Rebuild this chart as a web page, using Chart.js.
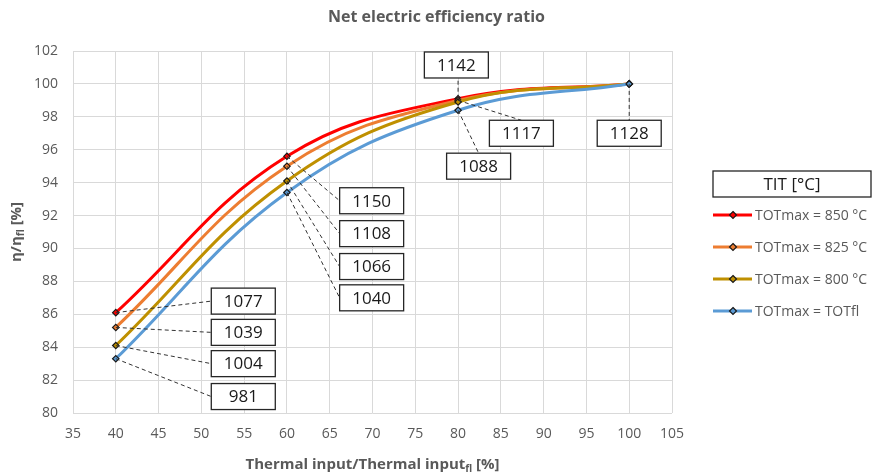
<!DOCTYPE html>
<html>
<head>
<meta charset="utf-8">
<script src="https://cdn.jsdelivr.net/npm/chart.js@4.4.1/dist/chart.umd.min.js"></script>
<style>
  html, body { margin: 0; padding: 0; background: #fff; }
  #wrap { width: 873px; height: 475px; }
</style>
</head>
<body>
<div id="wrap"><canvas id="effChart"></canvas></div>
<script>
// data
const thermalInput = [40, 60, 80, 100];
const tot850 = [86.1, 95.6, 99.1, 100];
const tot825 = [85.2, 95.0, 99.0, 100];
const tot800 = [84.1, 94.1, 98.9, 100];
const totFl = [83.3, 93.4, 98.4, 100];
const seriesNames = ["TOTmax = 850 °C", "TOTmax = 825 °C", "TOTmax = 800 °C", "TOTmax = TOTfl"];
const xTicks = [35, 40, 45, 50, 55, 60, 65, 70, 75, 80, 85, 90, 95, 100, 105];
const yTicks = [80, 82, 84, 86, 88, 90, 92, 94, 96, 98, 100, 102];

// TIT labels: which series / point they belong to
const titValues = ["1077", "1039", "1004", "981", "1150", "1108", "1066", "1040", "1142", "1117", "1088", "1128"];
const titSeries = [0, 1, 2, 3, 0, 1, 2, 3, 0, 1, 3, 3];
const titPoint = [0, 0, 0, 0, 1, 1, 1, 1, 2, 2, 2, 3];

// where the label boxes sit (in axis units) and which side the leader line hits
const boxPos = [
  [54.9, 86.8, "left"], [54.9, 84.9, "left"], [54.9, 83.0, "left"], [54.9, 81.0, "left"],
  [69.9, 92.9, "left"], [69.9, 90.9, "left"], [69.9, 88.9, "left"], [69.9, 87.0, "left"],
  [79.8, 101.15, "bottom"], [87.4, 97.0, "top"], [82.4, 95.0, "top"], [100.0, 97.0, "top"]
];

const colors = ["#ff0000", "#ed7d31", "#bf9000", "#5b9bd5"];
const allSeries = [tot850, tot825, tot800, totFl];
const gray = "#595959";
const FONT = "'Open Sans', 'DejaVu Sans', sans-serif";

const datasets = allSeries.map((vals, i) => ({
  label: seriesNames[i],
  data: thermalInput.map((x, j) => ({ x: x, y: vals[j] })),
  borderColor: colors[i],
  backgroundColor: colors[i],
  borderWidth: 3,
  tension: 0.4,
  pointStyle: "rectRot",
  pointRadius: 3.2,
  pointBorderColor: "#1a1a1a",
  pointBorderWidth: 1.2,
  pointBackgroundColor: colors[i],
  order: 4 - i
}));

// dashed leaders + TIT boxes
const titLabels = {
  id: "titLabels",
  afterDatasetsDraw(chart) {
    const { ctx, scales: { x, y } } = chart;
    const bw = 64, bh = 26;
    ctx.save();
    titValues.forEach((txt, k) => {
      const px = x.getPixelForValue(thermalInput[titPoint[k]]);
      const py = y.getPixelForValue(allSeries[titSeries[k]][titPoint[k]]);
      const cx = x.getPixelForValue(boxPos[k][0]);
      const cy = y.getPixelForValue(boxPos[k][1]);
      let ex = cx, ey = cy;
      if (boxPos[k][2] === "left") ex = cx - bw / 2;
      if (boxPos[k][2] === "top") ey = cy - bh / 2;
      if (boxPos[k][2] === "bottom") { ey = cy + bh / 2; ex = px; }
      ctx.setLineDash([4, 3]);
      ctx.strokeStyle = "#333";
      ctx.lineWidth = 1;
      ctx.beginPath();
      ctx.moveTo(px, py);
      ctx.lineTo(ex, ey);
      ctx.stroke();
    });
    titValues.forEach((txt, k) => {
      const cx = x.getPixelForValue(boxPos[k][0]);
      const cy = y.getPixelForValue(boxPos[k][1]);
      ctx.setLineDash([]);
      ctx.fillStyle = "#fff";
      ctx.fillRect(cx - bw / 2, cy - bh / 2, bw, bh);
      ctx.strokeStyle = "#262626";
      ctx.lineWidth = 1.3;
      ctx.strokeRect(cx - bw / 2, cy - bh / 2, bw, bh);
      ctx.fillStyle = "#1a1a1a";
      ctx.font = "17px " + FONT;
      ctx.textAlign = "center";
      ctx.textBaseline = "middle";
      ctx.fillText(txt, cx, cy + 1);
    });
    ctx.restore();
  }
};

// title, axis titles with the "fl" subscript, and the boxed legend on the right
const extras = {
  id: "extras",
  afterDraw(chart) {
    const { ctx, chartArea: a } = chart;
    ctx.save();
    ctx.fillStyle = gray;

    // chart title
    ctx.font = "bold 16px " + FONT;
    ctx.textAlign = "center";
    ctx.textBaseline = "middle";
    ctx.fillText("Net electric efficiency ratio", chart.width / 2, 17);

    ctx.textBaseline = "alphabetic";
    // x title
    const main = "Thermal input/Thermal input";
    ctx.font = "bold 15px " + FONT;
    const w1 = ctx.measureText(main).width;
    ctx.font = "bold 10px " + FONT;
    const w2 = ctx.measureText("fl").width;
    ctx.font = "bold 15px " + FONT;
    const w3 = ctx.measureText(" [%]").width;
    let sx = (a.left + a.right) / 2 - (w1 + w2 + w3) / 2;
    const by = 469;
    ctx.textAlign = "left";
    ctx.fillText(main, sx, by);
    ctx.font = "bold 10px " + FONT;
    ctx.fillText("fl", sx + w1, by + 3);
    ctx.font = "bold 15px " + FONT;
    ctx.fillText(" [%]", sx + w1 + w2, by);

    // y title (rotated)
    ctx.save();
    ctx.translate(21, (a.top + a.bottom) / 2);
    ctx.rotate(-Math.PI / 2);
    ctx.font = "bold 15px " + FONT;
    const t1 = "η/η";
    const u1 = ctx.measureText(t1).width;
    ctx.font = "bold 10px " + FONT;
    const u2 = ctx.measureText("fl").width;
    ctx.font = "bold 15px " + FONT;
    const u3 = ctx.measureText(" [%]").width;
    let tx = -(u1 + u2 + u3) / 2;
    ctx.fillText(t1, tx, 0);
    ctx.font = "bold 10px " + FONT;
    ctx.fillText("fl", tx + u1, 3);
    ctx.font = "bold 15px " + FONT;
    ctx.fillText(" [%]", tx + u1 + u2, 0);
    ctx.restore();

    // legend
    const lx = a.right + 41;
    ctx.fillStyle = "#fff";
    ctx.fillRect(lx, 171, 158, 26);
    ctx.strokeStyle = "#262626";
    ctx.lineWidth = 1.3;
    ctx.strokeRect(lx, 171, 158, 26);
    ctx.fillStyle = "#1a1a1a";
    ctx.font = "17px " + FONT;
    ctx.textAlign = "center";
    ctx.textBaseline = "middle";
    ctx.fillText("TIT [°C]", lx + 79, 185);

    seriesNames.forEach((name, i) => {
      const yy = 215 + i * 32;
      ctx.strokeStyle = colors[i];
      ctx.lineWidth = 3;
      ctx.beginPath();
      ctx.moveTo(lx, yy);
      ctx.lineTo(lx + 39, yy);
      ctx.stroke();
      ctx.fillStyle = colors[i];
      ctx.strokeStyle = "#1a1a1a";
      ctx.lineWidth = 1.2;
      ctx.beginPath();
      ctx.moveTo(lx + 20, yy - 3.5);
      ctx.lineTo(lx + 23.5, yy);
      ctx.lineTo(lx + 20, yy + 3.5);
      ctx.lineTo(lx + 16.5, yy);
      ctx.closePath();
      ctx.fill();
      ctx.stroke();
      ctx.fillStyle = gray;
      ctx.font = "14px " + FONT;
      ctx.textAlign = "left";
      ctx.fillText(name, lx + 42, yy + 1);
    });
    ctx.restore();
  }
};

new Chart(document.getElementById("effChart"), {
  type: "line",
  data: { datasets: datasets },
  options: {
    responsive: true,
    maintainAspectRatio: false,
    animation: false,
    layout: { padding: { left: 28, right: 201, top: 51, bottom: 32 } },
    plugins: {
      legend: { display: false },
      tooltip: { enabled: false },
      title: { display: false }
    },
    scales: {
      x: {
        type: "linear",
        min: 35,
        max: 105,
        afterBuildTicks: (s) => { s.ticks = xTicks.map(v => ({ value: v })); },
        afterFit: (s) => { s.height = 30; },
        grid: { color: "#d9d9d9", drawTicks: false },
        border: { display: false },
        ticks: { color: gray, padding: 13, font: { family: FONT, size: 14 } }
      },
      y: {
        min: 80,
        max: 102,
        afterBuildTicks: (s) => { s.ticks = yTicks.map(v => ({ value: v })); },
        afterFit: (s) => { s.width = 45; },
        grid: { color: "#d9d9d9", drawTicks: false },
        border: { display: false },
        ticks: { color: gray, padding: 15, font: { family: FONT, size: 14 } }
      }
    }
  },
  plugins: [titLabels, extras]
});
</script>
</body>
</html>
